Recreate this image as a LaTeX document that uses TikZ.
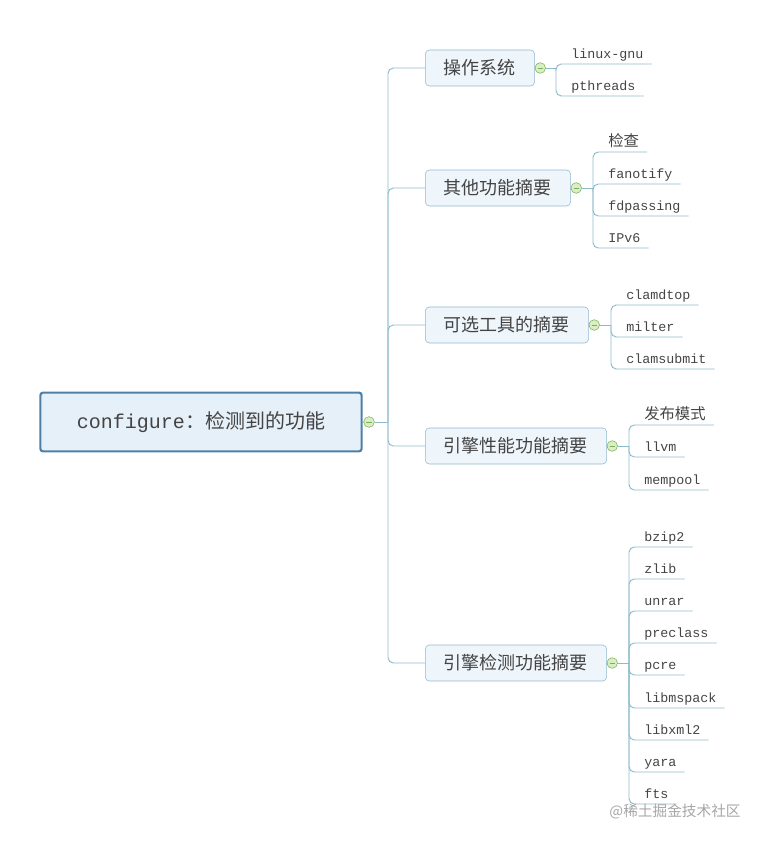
\documentclass[tikz,border=0pt]{standalone}
\usepackage{fontspec}
\setmainfont{Noto Sans CJK SC}
\setmonofont{Liberation Mono}
\usetikzlibrary{positioning}
\definecolor{linec}{HTML}{8DBACB}
\definecolor{boxfill}{HTML}{EEF5FB}
\definecolor{boxdraw}{HTML}{92B8CC}
\definecolor{rootdraw}{HTML}{4E7FA6}
\definecolor{rootfill}{HTML}{E6F0F9}
\definecolor{txt}{HTML}{444444}
\definecolor{knob}{HTML}{D9EEC4}
\definecolor{knobdraw}{HTML}{7DAF5B}
\tikzstyle{root}   = [rectangle, rounded corners=2pt, draw=rootdraw, line width=1.6pt, fill=rootfill, minimum width=241pt, minimum height=44pt, text=txt, font=\fontsize{15}{18}\selectfont]
\tikzstyle{topic}  = [rectangle, rounded corners=3pt, draw=boxdraw, fill=boxfill, minimum height=27pt, inner xsep=14pt, text=txt, font=\fontsize{13.5}{15}\selectfont, anchor=west]
\tikzstyle{leaf}   = [anchor=south west, inner xsep=6pt, inner ysep=2pt, text height=7pt, text depth=2pt, text=txt, font=\ttfamily\fontsize{10}{12}\selectfont]
\tikzstyle{leafcjk}= [leaf, text height=9pt, font=\fontsize{11.5}{13}\selectfont]
\tikzstyle{line}   = [draw=linec, line width=0.7pt]
\tikzstyle{fork}   = [line, rounded corners=4pt]
\tikzstyle{minus}  = [circle, draw=knobdraw, fill=knob, inner sep=0pt, minimum size=8pt, path picture={\draw[knobdraw] (path picture bounding box.west) ++(2pt,0) -- ++(4pt,0);}]
\begin{document}
\begin{tikzpicture}[x=0.75pt, y=-0.75pt]
    \useasboundingbox (0,0) rectangle (770,845);

    % root and trunk
    \node (r) at (201,422) [root] {\texttt{configure}：检测到的功能};
    \node (rk) at (369,422) [minus] {};
    \draw [line] (r.east) -- (rk);
    \coordinate (t0) at (388,422);
    \draw [line] (rk) -- (t0);

    % topics
    \node (os)  at (425,68)  [topic] {操作系统};
    \node (oth) at (425,188) [topic] {其他功能摘要};
    \node (opt) at (425,325) [topic] {可选工具的摘要};
    \node (prf) at (425,446) [topic] {引擎性能功能摘要};
    \node (det) at (425,663) [topic] {引擎检测功能摘要};
    \foreach \t in {os, oth, opt, prf, det}
        \draw [fork] (t0) |- (\t.west);

    % knobs
    \node (kos)  [minus, right=4pt of os.east,  anchor=center] {};
    \node (koth) [minus, right=4pt of oth.east, anchor=center] {};
    \node (kopt) [minus, right=4pt of opt.east, anchor=center] {};
    \node (kprf) [minus, right=4pt of prf.east, anchor=center] {};
    \node (kdet) [minus, right=4pt of det.east, anchor=center] {};
    \foreach \t in {os, oth, opt, prf, det}
        \draw [line] (\t.east) -- (k\t);

    % leaves: operating system
    \coordinate (cos) at (556,68);
    \node (os1) at (563,64) [leaf] {linux-gnu};
    \node (os2) at (563,96) [leaf] {pthreads};
    \draw [line] (kos) -- (cos);
    \foreach \l in {os1, os2}
        \draw [fork] (cos) |- (\l.south east);

    % leaves: other features
    \coordinate (coth) at (593,188);
    \node (oth1) at (600,152) [leafcjk] {检查};
    \node (oth2) at (600,184) [leaf] {fanotify};
    \node (oth3) at (600,216) [leaf] {fdpassing};
    \node (oth4) at (600,248) [leaf] {IPv6};
    \draw [line] (koth) -- (coth);
    \foreach \l in {oth1, oth2, oth3, oth4}
        \draw [fork] (coth) |- (\l.south east);

    % leaves: optional tools
    \coordinate (copt) at (611,325);
    \node (opt1) at (618,305) [leaf] {clamdtop};
    \node (opt2) at (618,337) [leaf] {milter};
    \node (opt3) at (618,369) [leaf] {clamsubmit};
    \draw [line] (kopt) -- (copt);
    \foreach \l in {opt1, opt2, opt3}
        \draw [fork] (copt) |- (\l.south east);

    % leaves: engine performance
    \coordinate (cprf) at (629,446);
    \node (prf1) at (636,425) [leafcjk] {发布模式};
    \node (prf2) at (636,457) [leaf] {llvm};
    \node (prf3) at (636,490) [leaf] {mempool};
    \draw [line] (kprf) -- (cprf);
    \foreach \l in {prf1, prf2, prf3}
        \draw [fork] (cprf) |- (\l.south east);

    % leaves: engine detection
    \coordinate (cdet) at (629,663);
    \node (det1) at (636,547) [leaf] {bzip2};
    \node (det2) at (636,579) [leaf] {zlib};
    \node (det3) at (636,611) [leaf] {unrar};
    \node (det4) at (636,643) [leaf] {preclass};
    \node (det5) at (636,675) [leaf] {pcre};
    \node (det6) at (636,708) [leaf] {libmspack};
    \node (det7) at (636,740) [leaf] {libxml2};
    \node (det8) at (636,772) [leaf] {yara};
    \node (det9) at (636,804) [leaf] {fts};
    \draw [line] (kdet) -- (cdet);
    \foreach \l in {det1, det2, det3, det4, det5, det6, det7, det8, det9}
        \draw [fork] (cdet) |- (\l.south east);

    % watermark
    \node (wm) at (675,812) [text=gray!70, font=\fontsize{11}{13}\selectfont] {@稀土掘金技术社区};
\end{tikzpicture}
\end{document}
